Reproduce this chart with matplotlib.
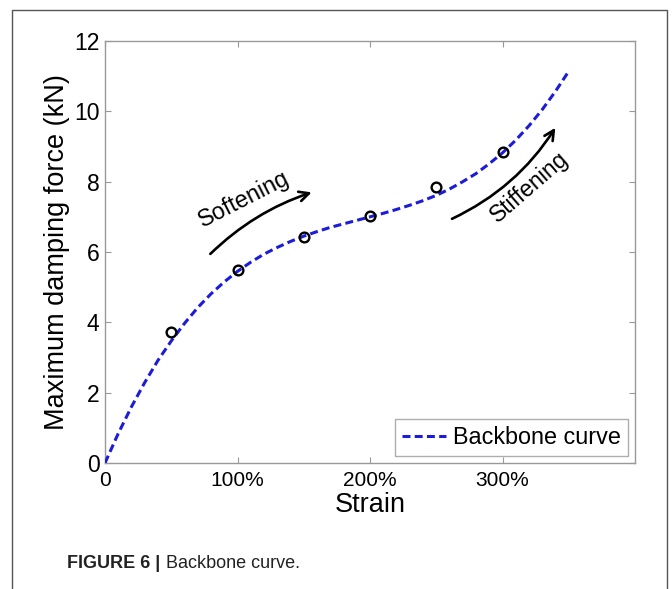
import matplotlib

matplotlib.use("Agg")
import matplotlib.pyplot as plt
from matplotlib.patches import FancyArrowPatch, Rectangle

plt.rcParams["font.family"] = ["Liberation Sans", "DejaVu Sans"]

# Backbone curve (strain as fraction, force in kN)
curve_strain = [0.0, 0.1, 0.2, 0.3, 0.4, 0.5, 0.6, 0.7, 0.8, 0.9, 1.0, 1.1,
                1.2, 1.3, 1.4, 1.5, 1.6, 1.7, 1.8, 1.9, 2.0, 2.1, 2.2, 2.3,
                2.4, 2.5, 2.6, 2.7, 2.8, 2.9, 3.0, 3.1, 3.2, 3.3, 3.4, 3.5]
curve_force = [0.0, 0.84, 1.60, 2.29, 2.92, 3.47, 3.97, 4.42, 4.81, 5.15,
               5.45, 5.71, 5.94, 6.13, 6.30, 6.45, 6.58, 6.70, 6.80, 6.90,
               7.00, 7.10, 7.21, 7.33, 7.46, 7.61, 7.79, 8.00, 8.23, 8.51,
               8.82, 9.18, 9.59, 10.05, 10.57, 11.14]

# Measured points
test_strain = [0.5, 1.0, 1.5, 2.0, 2.5, 3.0]
test_force = [3.72, 5.48, 6.44, 7.03, 7.86, 8.84]

x_ticks = [0, 1, 2, 3]
x_tick_labels = ["0", "100%", "200%", "300%"]
y_ticks = [0, 2, 4, 6, 8, 10, 12]

fig = plt.figure(figsize=(6.72, 5.89), dpi=100)

# outer figure frame
fig.patches.append(Rectangle((12 / 672, -0.01), 655 / 672, 1 - 10 / 589 + 0.01,
                             transform=fig.transFigure, fill=False,
                             edgecolor="#555555", linewidth=1.0))

ax = fig.add_axes([105 / 672, 1 - 463 / 589, 530 / 672, 422 / 589])

ax.plot(curve_strain, curve_force, linestyle="--", color="#1c1cd6",
        linewidth=2.2, dashes=(2.6, 1.4), label="Backbone curve", zorder=3)
ax.plot(test_strain, test_force, linestyle="none", marker="o", markersize=7,
        markerfacecolor="none", markeredgecolor="black", markeredgewidth=1.7,
        zorder=4)

ax.set_xlim(0, 4)
ax.set_ylim(0, 12)
ax.set_xticks(x_ticks)
ax.set_xticklabels(x_tick_labels)
ax.set_yticks(y_ticks)
ax.tick_params(direction="in", top=True, right=True, length=4,
               color="#999999")
ax.tick_params(axis="x", labelsize=15, pad=6)
ax.tick_params(axis="y", labelsize=16.5, pad=4)
for sp in ax.spines.values():
    sp.set_color("#999999")
    sp.set_linewidth(1.0)

ax.set_xlabel("Strain", fontsize=19.5, labelpad=1)
ax.set_ylabel("Maximum damping force (kN)", fontsize=19.5, labelpad=3)

leg = ax.legend(loc="lower right", fontsize=16.8, frameon=True, fancybox=False,
                handlelength=1.9, borderpad=0.3, handletextpad=0.3,
                borderaxespad=0.3)
leg.get_frame().set_edgecolor("#999999")
leg.get_frame().set_linewidth(1.0)

# annotation arrows
ax.add_patch(FancyArrowPatch((0.78, 5.89), (1.58, 7.72),
                             connectionstyle="arc3,rad=-0.12",
                             arrowstyle="->,head_length=7,head_width=3.5",
                             color="black", linewidth=1.9))
ax.text(1.05, 7.50, "Softening", fontsize=16.8, rotation=27,
        ha="center", va="center")

ax.add_patch(FancyArrowPatch((2.60, 6.91), (3.41, 9.60),
                             connectionstyle="arc3,rad=0.15",
                             arrowstyle="->,head_length=7,head_width=3.5",
                             color="black", linewidth=1.9))
ax.text(3.20, 7.85, "Stiffening", fontsize=16.5, rotation=41,
        ha="center", va="center")

fig.text(67 / 672, 1 - 563 / 589, "FIGURE 6 |", fontsize=13,
         fontweight="bold", ha="left", va="center", color="#222222")
fig.text(166 / 672, 1 - 563 / 589, "Backbone curve.", fontsize=13,
         ha="left", va="center", color="#222222")

fig.savefig("out.png", dpi=100)
